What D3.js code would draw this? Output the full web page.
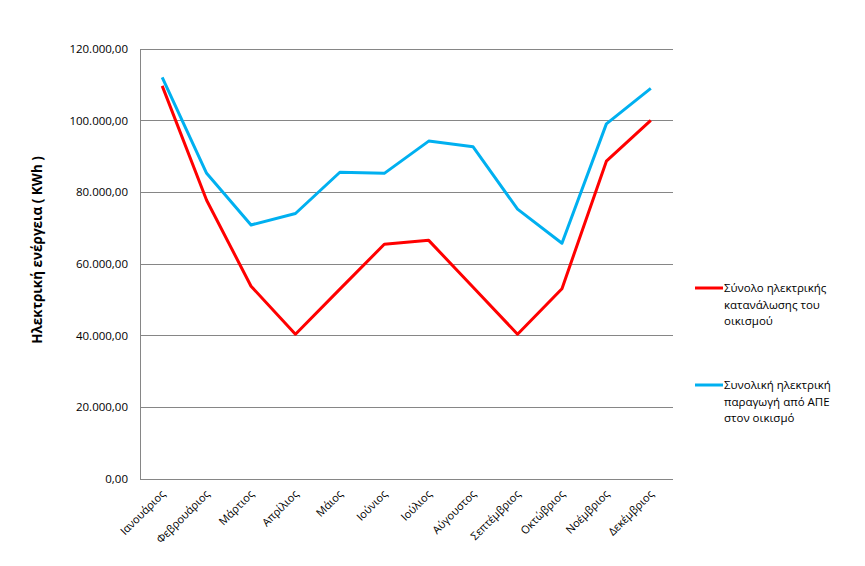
<!DOCTYPE html>
<html><head><meta charset="utf-8">
<script src="https://cdn.jsdelivr.net/npm/d3@7"></script>
<style>body{margin:0;background:#fff}svg{display:block}text{font-family:"Open Sans","Liberation Sans",sans-serif}</style>
</head><body><svg id="c" width="865" height="566"></svg>
<script>
const months = ["Ιανουάριος","Φεβρουάριος","Μάρτιος","Απρίλιος","Μάιος","Ιούνιος","Ιούλιος","Αύγουστος","Σεπτέμβριος","Οκτώβριος","Νοέμβριος","Δεκέμβριος"];
const consumption = [109700,77800,53800,40400,53000,65500,66600,53500,40400,53100,88700,100100];
const production = [112100,85300,70900,74100,85600,85300,94300,92700,75300,65800,99100,109000];
const yTicks = [0,20000,40000,60000,80000,100000,120000];
const seriesNames = [["Σύνολο ηλεκτρικής","κατανάλωσης του","οικισμού"],["Συνολική ηλεκτρική","παραγωγή από ΑΠΕ","στον οικισμό"]];
const colors = ["#FF0000","#00B0F0"];
const yTitle = "Ηλεκτρική ενέργεια ( KWh )";

const svg = d3.select("#c");
const L=140, R=673, T=49, B=479;
const x = d3.scaleBand().domain(months).range([L,R]);
const y = d3.scaleLinear().domain([0,120000]).range([B,T]);
const fmt = v => d3.format(",.2f")(v).replace(/,/g,"#").replace(/\./g,",").replace(/#/g,".");

// gridlines
svg.append("g").selectAll("line").data(yTicks.filter(d=>d>0)).join("line")
  .attr("x1",L).attr("x2",R).attr("y1",d=>y(d)).attr("y2",d=>y(d))
  .attr("stroke","#868686").attr("stroke-width",1).attr("shape-rendering","crispEdges");
// axes lines
svg.append("line").attr("x1",L).attr("x2",L).attr("y1",T).attr("y2",B).attr("stroke","#868686").attr("shape-rendering","crispEdges");
svg.append("line").attr("x1",L).attr("x2",R).attr("y1",B).attr("y2",B).attr("stroke","#868686").attr("shape-rendering","crispEdges");

// y tick labels
svg.append("g").selectAll("text").data(yTicks).join("text")
  .attr("x",L-12).attr("y",d=>y(d)).attr("dy","0.35em").attr("text-anchor","end")
  .attr("font-size",11.5).attr("fill","#000").text(fmt);

// x labels
svg.append("g").selectAll("text").data(months).join("text")
  .attr("transform",d=>`translate(${x(d)+x.bandwidth()/2+1},${B+13}) rotate(-45)`)
  .attr("text-anchor","end").attr("dy","0.35em").attr("font-size",11).attr("fill","#000").text(d=>d);

// y title
svg.append("text").attr("transform",`translate(42,250) rotate(-90)`).attr("text-anchor","middle")
  .attr("font-size",13.5).attr("font-weight","bold").text(yTitle);

// lines
const line = d3.line().x((d,i)=>x(months[i])+x.bandwidth()/2).y(d=>y(d));
[consumption,production].forEach((s,i)=>{
  svg.append("path").datum(s).attr("d",line).attr("fill","none").attr("stroke",colors[i]).attr("stroke-width",3).attr("stroke-linejoin","round");
});

// legend
const legY = [288,385];
seriesNames.forEach((names,i)=>{
  svg.append("line").attr("x1",695).attr("x2",723).attr("y1",legY[i]).attr("y2",legY[i]).attr("stroke",colors[i]).attr("stroke-width",3);
  names.forEach((t,j)=>{
    svg.append("text").attr("x",724).attr("y",legY[i]+j*16.5).attr("dy","0.35em").attr("font-size",11.5).text(t);
  });
});
</script></body></html>
